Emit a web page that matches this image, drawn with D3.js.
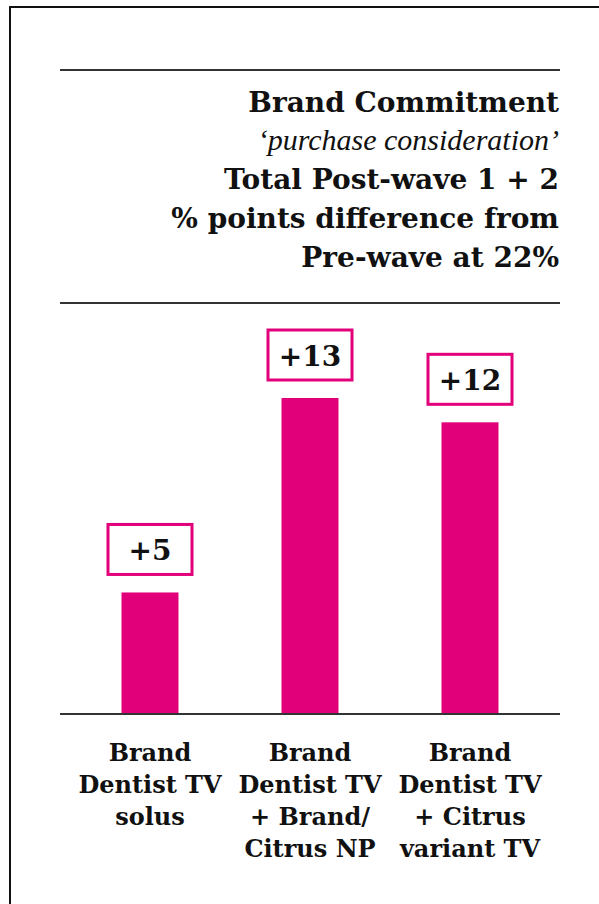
<!DOCTYPE html>
<html>
<head>
<meta charset="utf-8">
<script src="https://cdn.jsdelivr.net/npm/d3@7"></script>
<style>
	body { margin: 0; background: #fff; }
	svg { display: block; }
</style>
</head>
<body>
<div id="chart"></div>
<script>
(function(){
	var width = 599,
		height = 904;

	// data
	var categories = ["solus", "brandNP", "citrusTV"];
	var values = [5, 13, 12];
	var valueLabels = ["+5", "+13", "+12"];
	var categoryLines = [
		["Brand", "Dentist TV", "solus"],
		["Brand", "Dentist TV", "+ Brand/", "Citrus NP"],
		["Brand", "Dentist TV", "+ Citrus", "variant TV"]
	];
	var titleLines = [
		"Brand Commitment",
		"\u2018purchase consideration\u2019",
		"Total Post-wave 1 + 2",
		"% points difference from",
		"Pre-wave at 22%"
	];

	var pink = "#e2007a";
	var boldFont = "'DejaVu Serif', serif";
	var italicFont = "'Liberation Serif', 'Times New Roman', serif";

	var svg = d3.select("#chart")
		.append("svg")
		.attr("width", width)
		.attr("height", height)

	// frame - only top and left edges show
	svg.append("path")
		.attr("d", "M10,904 V7 H599")
		.attr("fill", "none")
		.attr("stroke", "#111")
		.attr("stroke-width", 2)

	// rules above and below title
	svg.selectAll(".rule")
		.data([70, 303])
		.enter().append("line")
		.attr("class", "rule")
		.attr("x1", 60)
		.attr("x2", 560)
		.attr("y1", function(d){ return d })
		.attr("y2", function(d){ return d })
		.attr("stroke", "#333")
		.attr("stroke-width", 2)

	var titleY = [112, 150, 189, 228, 267];
	svg.selectAll(".title")
		.data(titleLines)
		.enter().append("text")
		.attr("class", "title")
		.attr("x", 559)
		.attr("y", function(d, i){ return titleY[i] })
		.attr("text-anchor", "end")
		.attr("fill", "#111")
		.style("font-family", function(d, i){ return i == 1 ? italicFont : boldFont })
		.style("font-style", function(d, i){ return i == 1 ? "italic" : "normal" })
		.style("font-weight", function(d, i){ return i == 1 ? "normal" : "bold" })
		.style("font-size", function(d, i){ return i == 1 ? "30px" : "28px" })
		.text(function(d){ return d })

	// scales
	var x = d3.scaleBand()
		.domain(categories)
		.range([70, 550])
		.paddingInner(0.644)
		.paddingOuter(0.322)

	var y = d3.scaleLinear()
		.domain([0, 13])
		.range([714, 398])

	svg.selectAll(".bar")
		.data(values)
		.enter().append("rect")
		.attr("class", "bar")
		.attr("x", function(d, i){ return x(categories[i]) })
		.attr("width", x.bandwidth())
		.attr("y", function(d){ return y(d) })
		.attr("height", function(d){ return y(0) - y(d) })
		.attr("fill", pink)

	// boxed value labels
	var boxW = 84, boxH = 50, gap = 18;
	var labels = svg.selectAll(".vlabel")
		.data(values)
		.enter().append("g")
		.attr("class", "vlabel")
		.attr("transform", function(d, i){
			var cx = x(categories[i]) + x.bandwidth() / 2;
			return "translate(" + cx + "," + (y(d) - gap - boxH) + ")";
		})

	labels.append("rect")
		.attr("x", -boxW / 2)
		.attr("y", 0)
		.attr("width", boxW)
		.attr("height", boxH)
		.attr("fill", "#fff")
		.attr("stroke", pink)
		.attr("stroke-width", 3)

	labels.append("text")
		.attr("x", 0)
		.attr("y", 36)
		.attr("text-anchor", "middle")
		.attr("fill", "#111")
		.style("font-family", boldFont)
		.style("font-weight", "bold")
		.style("font-size", "28px")
		.text(function(d, i){ return valueLabels[i] })

	// baseline
	svg.append("line")
		.attr("x1", 60)
		.attr("x2", 560)
		.attr("y1", y(0))
		.attr("y2", y(0))
		.attr("stroke", "#333")
		.attr("stroke-width", 2)

	// category labels
	var catText = svg.selectAll(".cat")
		.data(categoryLines)
		.enter().append("text")
		.attr("class", "cat")
		.attr("text-anchor", "middle")
		.attr("fill", "#111")
		.style("font-family", boldFont)
		.style("font-weight", "bold")
		.style("font-size", "24px")

	catText.selectAll("tspan")
		.data(function(d, i){
			return d.map(function(line){ return { line: line, i: i } })
		})
		.enter().append("tspan")
		.attr("x", function(d){ return x(categories[d.i]) + x.bandwidth() / 2 })
		.attr("y", function(d, j){ return 761 + j * 32 })
		.text(function(d){ return d.line })

})();
</script>
</body>
</html>
